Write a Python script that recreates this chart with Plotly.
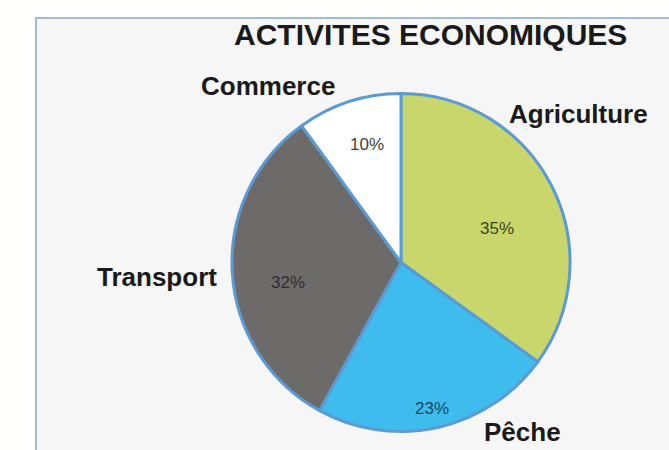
import plotly.graph_objects as go

labels = ["Agriculture", "Pêche", "Transport", "Commerce"]
values = [35, 23, 32, 10]
colors = ["#c9d66b", "#3dbced", "#6d6a6a", "#ffffff"]
pct_colors = ["#3f4520", "#1d4766", "#2e2e2e", "#404040"]
title_text = "ACTIVITES ECONOMIQUES"

W, H = 669, 450
cx, cy, r = 401, 262.5, 169

FONT = "Liberation Sans, Arial, sans-serif"

fig = go.Figure()
fig.add_trace(go.Pie(
    labels=labels,
    values=values,
    sort=False,
    direction="clockwise",
    rotation=0,
    marker=dict(colors=colors, line=dict(color="#5b9bd5", width=3)),
    textinfo="none",
    domain=dict(x=[(cx - r) / W, (cx + r) / W], y=[1 - (cy + r) / H, 1 - (cy - r) / H]),
    showlegend=False,
    hoverinfo="label+percent",
))

def px(x, y):
    return x / W, 1 - y / H

label_pos = {
    "Commerce": (268, 86),
    "Agriculture": (578, 114),
    "Transport": (157, 277),
    "Pêche": (522, 432),
}
pct_pos = {
    "Commerce": (367, 145),
    "Agriculture": (497, 228),
    "Transport": (288, 282),
    "Pêche": (432, 408),
}
total = sum(values)
for name, v, pc in zip(labels, values, pct_colors):
    x, y = px(*label_pos[name])
    fig.add_annotation(
        x=x, y=y, xref="paper", yref="paper",
        text="<b>" + name + "</b>", showarrow=False, xanchor="center", yanchor="middle",
        font=dict(family=FONT, size=26, color="#1a1a1a"),
    )
    x, y = px(*pct_pos[name])
    fig.add_annotation(
        x=x, y=y, xref="paper", yref="paper",
        text=f"{round(100 * v / total)}%", showarrow=False, xanchor="center", yanchor="middle",
        font=dict(family=FONT, size=17, color=pc),
    )

tx, ty = px(430, 35)
fig.add_annotation(
    x=tx, y=ty, xref="paper", yref="paper",
    text="<b>" + title_text + "</b>", showarrow=False, xanchor="center", yanchor="middle",
    font=dict(family=FONT, size=30, color="#1a1a1a"),
)

fx0, fy1 = px(36, 18)
fig.add_shape(
    type="rect", xref="paper", yref="paper",
    x0=fx0, x1=1.05, y0=-0.05, y1=fy1,
    fillcolor="#f6f6f6", line=dict(color="#9fbbd6", width=2), layer="below",
)

fig.update_layout(
    width=W, height=H,
    margin=dict(l=0, r=0, t=0, b=0),
    paper_bgcolor="#fffffd",
    plot_bgcolor="#fffffd",
)

fig.write_html(
    "out.html",
    config={"displayModeBar": False},
    post_script="document.body.style.margin='0';document.body.style.overflow='hidden';",
)
